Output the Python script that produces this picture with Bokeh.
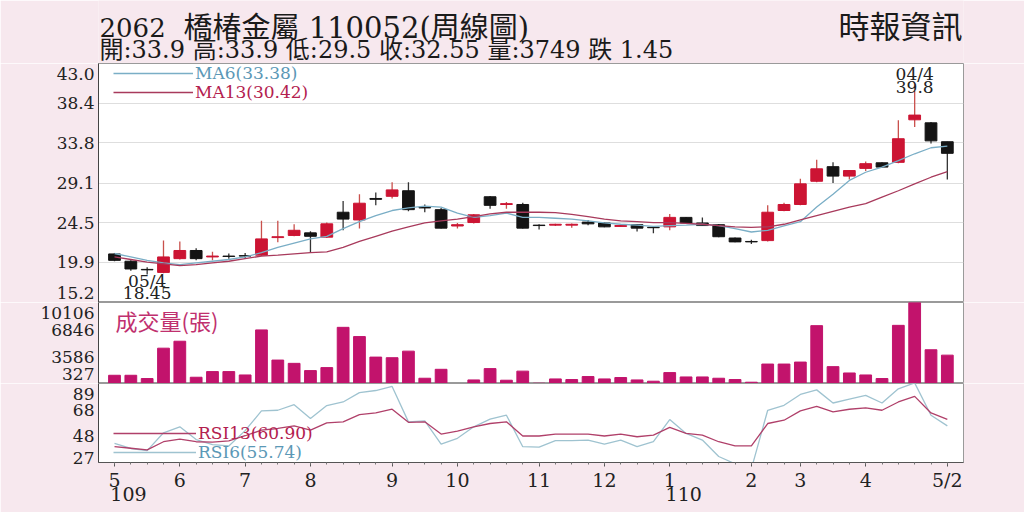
from bokeh.plotting import figure
from bokeh.models import (Range1d, FixedTicker, Label, Legend, LegendItem,
                          ColumnDataSource, LinearAxis)
from bokeh.layouts import column
from bokeh.embed import file_html
from bokeh.resources import INLINE

# ---------------- data (weekly, 2062 橋椿金屬) ----------------
opens = [20.85, 20.0, 19.05, 18.7, 20.3, 21.25, 20.5, 20.6, 20.65, 20.7,
         22.75, 23.0, 23.3, 22.8, 25.7, 24.8, 27.3, 27.55, 28.2, 26.25,
         26.0, 24.1, 24.5, 27.5, 26.6, 26.6, 24.2, 24.2, 24.2, 24.55,
         24.45, 24.05, 24.25, 23.95, 24.0, 25.1, 24.45, 24.25, 22.7, 22.3,
         22.4, 25.9, 26.6, 29.3, 31.0, 29.9, 30.8, 31.45, 31.5, 36.45,
         36.1, 33.9]
highs = [20.95, 20.1, 19.3, 22.4, 22.3, 21.5, 21.1, 20.9, 20.95, 24.7,
         24.7, 24.3, 23.5, 24.5, 27.0, 27.8, 28.0, 29.2, 29.2, 26.6,
         26.2, 24.45, 25.5, 27.6, 26.9, 26.8, 24.3, 24.35, 24.4, 24.8,
         24.5, 24.2, 24.3, 24.0, 25.5, 25.15, 25.1, 24.3, 22.75, 22.5,
         26.5, 26.8, 29.6, 31.8, 31.5, 30.6, 31.6, 31.5, 36.4, 39.8,
         36.2, 33.9]
lows = [20.0, 18.9, 18.45, 18.6, 20.2, 20.1, 20.1, 20.3, 20.3, 20.6,
        22.2, 22.9, 21.05, 22.7, 23.6, 23.8, 26.5, 27.3, 25.8, 25.7,
        23.8, 23.8, 24.4, 26.1, 26.1, 23.8, 23.7, 24.1, 23.9, 24.2,
        23.95, 24.0, 23.45, 23.25, 23.6, 24.4, 24.1, 22.8, 22.2, 22.0,
        22.3, 25.8, 26.5, 29.2, 29.1, 29.5, 30.5, 30.9, 31.4, 35.6,
        33.7, 29.5]
closes = [20.1, 19.1, 19.0, 20.5, 21.25, 20.3, 20.6, 20.55, 20.6, 22.6,
          22.85, 23.6, 22.9, 24.35, 24.9, 26.75, 27.2, 28.3, 26.0, 26.2,
          23.85, 24.25, 25.4, 26.5, 26.7, 23.85, 24.15, 24.3, 24.3, 24.35,
          24.0, 24.15, 23.85, 23.9, 25.1, 24.45, 24.15, 22.85, 22.25, 22.25,
          25.7, 26.6, 29.0, 30.75, 29.9, 30.55, 31.35, 30.95, 34.25, 37.0,
          34.0, 32.55]
volumes = [1321, 1321, 926, 4592, 5430, 1082, 1765, 1765, 1357, 6796,
           3155, 2759, 1884, 2244, 7108, 5993, 3514, 3442, 4233, 962,
           2040, 327, 758, 2124, 722, 1820, 360, 878, 806, 1166,
           878, 1046, 758, 603, 1645, 1118, 1118, 962, 806, 483,
           2675, 2675, 2915, 7311, 2364, 1597, 1357, 926, 7347, 10106,
           4400, 3749]
ma6 = [20.9, 20.5, 20.1, 19.8, 19.6, 19.8, 20.0, 20.2, 20.5, 21.0,
       21.6, 22.1, 22.6, 22.9, 23.8, 24.6, 25.3, 25.9, 26.2, 26.4,
       26.3, 25.6, 25.1, 25.3, 25.6, 25.1, 25.1, 25.0, 24.9, 24.7,
       24.45, 24.3, 24.2, 24.05, 24.15, 24.2, 24.3, 24.15, 23.8, 23.4,
       23.6, 24.1, 24.6, 26.3, 27.8, 29.4, 30.35, 30.95, 31.7, 32.5,
       33.2, 33.38]
ma13 = [20.5, 20.2, 19.9, 19.7, 19.5, 19.6, 19.8, 20.0, 20.3, 20.6,
        20.7, 20.85, 21.0, 21.1, 21.6, 22.3, 22.9, 23.5, 24.0, 24.45,
        24.7, 24.9, 25.2, 25.5, 25.7, 25.7, 25.7, 25.65, 25.45, 25.2,
        24.9, 24.7, 24.6, 24.5, 24.5, 24.4, 24.3, 24.15, 24.0, 23.95,
        24.0, 24.3, 24.8, 25.3, 25.8, 26.3, 26.7, 27.45, 28.2, 29.0,
        29.77, 30.42]
rsi6 = [42.0, 38.0, 36.3, 50.3, 55.0, 45.0, 41.0, 40.0, 52.0, 67.5,
        68.0, 72.4, 61.5, 71.7, 74.5, 81.8, 83.5, 86.7, 58.9, 59.6,
        41.5, 46.0, 55.0, 61.0, 64.1, 39.4, 39.0, 44.1, 44.1, 44.6,
        41.5, 44.6, 39.4, 43.3, 60.7, 49.8, 44.6, 31.7, 26.0, 22.0,
        68.0, 71.9, 80.4, 84.0, 73.7, 76.7, 79.7, 73.7, 84.8, 89.5,
        64.1, 55.74]
rsi13 = [39.4, 38.2, 36.9, 43.3, 45.3, 43.3, 43.0, 44.0, 48.0, 52.4,
         53.7, 55.8, 52.4, 58.1, 58.9, 64.6, 65.9, 68.8, 58.5, 58.9,
         49.3, 51.6, 55.0, 57.6, 58.9, 47.8, 47.8, 49.3, 49.3, 49.3,
         47.8, 49.3, 47.2, 48.5, 54.5, 49.8, 48.5, 43.3, 40.0, 40.0,
         57.6, 60.2, 67.5, 71.1, 66.7, 68.8, 69.8, 68.0, 74.5, 78.9,
         65.9, 60.9]

price_ticks = [43.0, 38.4, 33.8, 29.1, 24.5, 19.9, 15.2]
vol_ticks = [10106, 6846, 3586, 327]
rsi_ticks = [89, 68, 48, 27]
month_idx = [0, 4, 8, 12, 17, 21, 26, 30, 34, 39, 42, 46, 51]
month_labels = ["5", "6", "7", "8", "9", "10", "11", "12", "1", "2", "3", "4", "5/2"]
year_idx = [0, 34]
year_labels = ["109", "110"]
high_date, low_date = "04/4", "05/4"

# ---------------- styling ----------------
PINK = "#f7e8ee"
RED = "#cc1433"
BLACK = "#141414"
VOLC = "#c2136c"
MA6C = "#7aaec6"
MA13C = "#a83a5c"
LEG6 = "#5b98b6"
LEG13 = "#b3204e"
SERIF = "DejaVu Serif"
MIXED = "DejaVu Serif, Noto Sans CJK TC"
W = 1024
STEP_PX = 16.33          # pixel width of one weekly slot

n = len(closes)
idx = list(range(n))
up = [c >= o for o, c in zip(opens, closes)]
src = ColumnDataSource(dict(
    x=idx, o=opens, h=highs, l=lows, c=closes,
    top=[max(o, c) for o, c in zip(opens, closes)],
    bot=[min(o, c) for o, c in zip(opens, closes)],
    col=[RED if u else BLACK for u in up],
    wick=["#c9504c" if u else "#333333" for u in up],
    vol=volumes, ma6=ma6, ma13=ma13, rsi6=rsi6, rsi13=rsi13,
))

xr = Range1d(-0.98, n - 0.01)
common = dict(width=W, x_range=xr, output_backend="svg", toolbar_location=None,
              min_border_left=98, min_border_right=61,
              background_fill_color="white", border_fill_color=PINK,
              outline_line_color="#9a9a9a")


def style_y(p, ticks, frame_h, in_top, in_bot):
    """Axis labels; the two edge labels sit a few pixels inside the panel,
    as in the original chart."""
    per_px = (ticks[0] - ticks[-1]) / frame_h
    t_top = ticks[0] - in_top * per_px
    t_bot = ticks[-1] + in_bot * per_px
    pos = [t_top] + ticks[1:-1] + [t_bot]
    p.yaxis.ticker = FixedTicker(ticks=pos)
    p.yaxis.major_label_overrides = {q: str(t) for q, t in zip(pos, ticks)}
    p.yaxis.axis_line_color = "#444444"
    p.yaxis.major_tick_out = 0
    p.yaxis.major_tick_in = 0
    p.yaxis.minor_tick_line_color = None
    p.yaxis.major_label_standoff = 4
    p.yaxis.major_label_text_font = SERIF
    p.yaxis.major_label_text_font_size = "17px"
    p.yaxis.major_label_text_color = "#222222"


def legend(p, label, r, color, y, glyph_w):
    p.add_layout(Legend(items=[LegendItem(label=label, renderers=[r])], location=(15, y),
                        glyph_width=glyph_w, glyph_height=16, label_height=16,
                        label_standoff=2, padding=0, margin=0, spacing=0,
                        border_line_color=None, background_fill_alpha=0,
                        label_text_color=color, label_text_font=SERIF,
                        label_text_font_size="17px"))


# ---------------- header ----------------
p0 = figure(width=W, height=63, x_range=Range1d(0, 1), y_range=Range1d(0, 1),
            x_axis_location=None, y_axis_location=None, output_backend="svg",
            toolbar_location=None, min_border=0, background_fill_color=PINK,
            border_fill_color=PINK, outline_line_color=None)
p0.grid.grid_line_color = None
chg = closes[-2] - closes[-1]
code, title = "2062", "橋椿金屬 110052(周線圖)"
line2 = (f"開:{opens[-1]} 高:{highs[-1]} 低:{lows[-1]} 收:{closes[-1]} "
         f"量:{volumes[-1]} {'跌' if chg > 0 else '漲'} {abs(chg):.2f}")
p0.add_layout(Label(x=1, y=36, x_units="screen", y_units="screen", text=code,
                    text_baseline="middle", text_font=SERIF, text_font_size="26px",
                    text_color="#1a1a1a"))
p0.add_layout(Label(x=85, y=36, x_units="screen", y_units="screen", text=title,
                    text_baseline="middle", text_font=MIXED, text_font_size="29px",
                    text_color="#1a1a1a"))
p0.add_layout(Label(x=1, y=14, x_units="screen", y_units="screen", text=line2,
                    text_baseline="middle", text_font=MIXED, text_font_size="24px",
                    text_color="#1a1a1a"))
p0.add_layout(Label(x=864, y=39, x_units="screen", y_units="screen", text="時報資訊",
                    text_align="right", text_baseline="middle", text_font="Noto Sans CJK TC",
                    text_font_size="31px", text_color="#1a1a1a"))

# ---------------- price panel ----------------
p1 = figure(height=239, y_range=Range1d(price_ticks[-1], price_ticks[0]),
            x_axis_location=None, min_border_top=0, min_border_bottom=0, **common)
p1.xgrid.grid_line_color = None
style_y(p1, price_ticks, 239, 10, 10)
p1.ygrid.ticker = FixedTicker(ticks=price_ticks[1:-1])
p1.ygrid.grid_line_color = "#dedede"

p1.segment(x0="x", y0="l", x1="x", y1="h", source=src, line_color="wick", line_width=1.3)
p1.vbar(x="x", width=0.72, top="top", bottom="bot", source=src,
        fill_color="col", line_color="col", line_width=1)
r_ma6 = p1.line("x", "ma6", source=src, line_color=MA6C, line_width=1.3)
r_ma13 = p1.line("x", "ma13", source=src, line_color=MA13C, line_width=1.3)
legend(p1, f"MA6({ma6[-1]:.2f})", r_ma6, LEG6, 219, 80)
legend(p1, f"MA13({ma13[-1]:.2f})", r_ma13, LEG13, 200, 80)

hi_i = max(idx, key=lambda i: highs[i])
lo_i = min(idx, key=lambda i: lows[i])
for txt, yv, off in [(high_date, highs[hi_i], 17), (f"{highs[hi_i]}", highs[hi_i], 4)]:
    p1.add_layout(Label(x=hi_i, y=yv, y_offset=off, text=txt, text_align="center",
                        text_baseline="middle", text_font=SERIF, text_font_size="17px",
                        text_color="#222222"))
for txt, yv, off in [(low_date, lows[lo_i], -6), (f"{lows[lo_i]}", lows[lo_i], -18)]:
    p1.add_layout(Label(x=lo_i, y=yv, y_offset=off, text=txt, text_align="center",
                        text_baseline="middle", text_font=SERIF, text_font_size="17px",
                        text_color="#222222"))

# ---------------- volume panel ----------------
p2 = figure(height=81, y_range=Range1d(vol_ticks[-1], vol_ticks[0]),
            x_axis_location=None, min_border_top=0, min_border_bottom=0, **common)
p2.grid.grid_line_color = None
style_y(p2, vol_ticks, 81, 10, 10)
p2.vbar(x="x", width=0.72, top="vol", bottom=vol_ticks[-1], source=src,
        fill_color=VOLC, line_color=VOLC)
p2.add_layout(Label(x=17, y=80, x_units="screen", y_units="screen", text="成交量(張)",
                    text_baseline="top", text_font="Noto Sans CJK TC",
                    text_font_size="22px", text_color="#c0306e"))

# ---------------- RSI panel ----------------
p3 = figure(height=129, y_range=Range1d(rsi_ticks[-1], rsi_ticks[0]),
            min_border_top=0, min_border_bottom=50, **common)
p3.grid.grid_line_color = None
style_y(p3, rsi_ticks, 79, 10, 5)
r_rsi6 = p3.line("x", "rsi6", source=src, line_color="#9fc3d0", line_width=1.3)
r_rsi13 = p3.line("x", "rsi13", source=src, line_color="#b0406a", line_width=1.3)
legend(p3, f"RSI13({rsi13[-1]:.2f})", r_rsi13, LEG13, 19, 83)
legend(p3, f"RSI6({rsi6[-1]:.2f})", r_rsi6, LEG6, 0, 83)

xa = p3.xaxis[0]
xa.ticker = FixedTicker(ticks=month_idx, minor_ticks=idx)
xa.major_label_overrides = {i: t for i, t in zip(month_idx, month_labels)}
xa.axis_line_color = "#555555"
xa.major_tick_out = 4
xa.major_tick_in = 0
xa.minor_tick_out = 2
xa.minor_tick_in = 0
xa.major_tick_line_color = "#555555"
xa.minor_tick_line_color = "#777777"
xa.major_label_standoff = 2
xa.major_label_text_font = SERIF
xa.major_label_text_font_size = "19px"
xa.major_label_text_color = "#222222"

# year row: printed under its month label, starting at the label's left edge
year_pos = [i + 14 / STEP_PX for i in year_idx]
ya = LinearAxis(ticker=FixedTicker(ticks=year_pos),
                major_label_overrides={q: t for q, t in zip(year_pos, year_labels)},
                axis_line_color=None, major_tick_line_color=None,
                minor_tick_line_color=None, major_label_standoff=-13,
                major_label_text_font=SERIF, major_label_text_font_size="19px",
                major_label_text_color="#222222")
p3.add_layout(ya, "below")

layout = column(p0, p1, p2, p3, spacing=0)
open("out.html", "w").write(file_html(layout, INLINE))
